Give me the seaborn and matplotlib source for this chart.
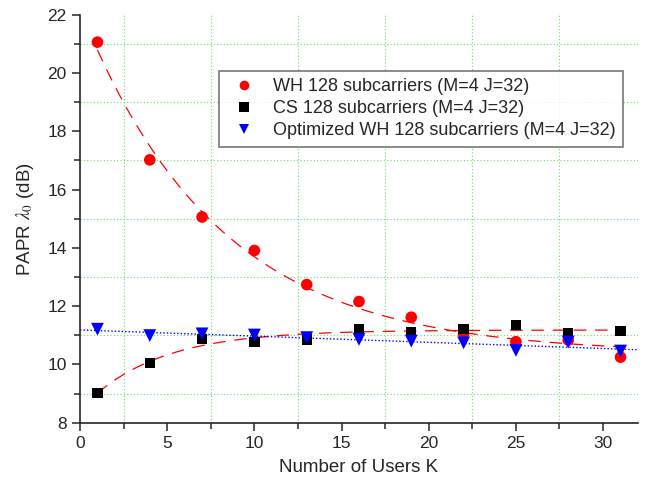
import numpy as np
import pandas as pd
import matplotlib
matplotlib.use('Agg')
import matplotlib.pyplot as plt
from matplotlib.ticker import MultipleLocator
import seaborn as sns

# ── Data ─────────────────────────────────────────────────────────────────────
users     = [1, 4, 7, 10, 13, 16, 19, 22, 25, 28, 31]
wh_papr   = [21.06, 17.02, 15.06, 13.91, 12.74, 12.16, 11.62, 11.05, 10.78, 10.84, 10.25]
cs_papr   = [9.02, 10.04, 10.87, 10.78, 10.86, 11.22, 11.11, 11.21, 11.36, 11.07, 11.16]
opt_papr  = [11.21, 10.99, 11.05, 11.01, 10.92, 10.86, 10.80, 10.74, 10.48, 10.77, 10.46]
labels    = ["WH 128 subcarriers (M=4 J=32)",
             "CS 128 subcarriers (M=4 J=32)",
             "Optimized WH 128 subcarriers (M=4 J=32)"]

sns.set_style('ticks')
plt.rcParams['font.family'] = ['Liberation Sans', 'DejaVu Sans']
plt.rcParams['mathtext.fontset'] = 'stix'

df = pd.DataFrame({
    'K':    users * 3,
    'PAPR': wh_papr + cs_papr + opt_papr,
    'series': [labels[0]] * 11 + [labels[1]] * 11 + [labels[2]] * 11,
})


def exp_fit(x, y):
    # y = a + b*exp(-x/t), best t by grid search, a/b by least squares
    x = np.asarray(x, float); y = np.asarray(y, float)
    best = None
    for t in np.linspace(1, 30, 600):
        A = np.column_stack([np.ones_like(x), np.exp(-x / t)])
        coef, *_ = np.linalg.lstsq(A, y, rcond=None)
        err = np.sum((A @ coef - y) ** 2)
        if best is None or err < best[0]:
            best = (err, coef, t)
    _, (a, b), t = best
    return lambda xx: a + b * np.exp(-xx / t)


fig = plt.figure(figsize=(6.48, 4.91), dpi=100)
ax = fig.add_axes([0.1235, 0.139, 0.861, 0.831])

# fitted curves
xs = np.linspace(1, 31.5, 200)
ax.plot(xs, exp_fit(users, wh_papr)(xs), color='red', lw=0.9, dashes=(10, 7), zorder=2)
xs2 = np.linspace(1, 31, 200)
ax.plot(xs2, exp_fit(users, cs_papr)(xs2), color='red', lw=0.9, dashes=(10, 7), zorder=2)
p = np.polyfit(users, opt_papr, 1)
xl = np.linspace(0, 32, 100)
ax.plot(xl, np.polyval(p, xl), color='blue', lw=1.0, ls=(0, (1, 1.5)), zorder=2)

sns.scatterplot(data=df, x='K', y='PAPR', hue='series', style='series', size='series',
                palette=['red', 'black', 'blue'], markers=['o', 's', 'v'],
                sizes={labels[0]: 70, labels[1]: 55, labels[2]: 85},
                edgecolor='none', ax=ax, zorder=3, legend=False)

ax.set_xlim(0, 32)
ax.set_ylim(8, 22)
ax.xaxis.set_major_locator(MultipleLocator(5))
ax.xaxis.set_minor_locator(MultipleLocator(2.5))
ax.yaxis.set_major_locator(MultipleLocator(2))
ax.yaxis.set_minor_locator(MultipleLocator(1))
ax.grid(which='minor', color='#66e066', ls=(0, (1, 2)), lw=0.8)
ax.grid(which='major', visible=False)
for s in ['top', 'right']:
    ax.spines[s].set_visible(False)
for s in ['left', 'bottom']:
    ax.spines[s].set_linewidth(1.2)
ax.tick_params(which='major', direction='out', length=6, width=1.1, labelsize=12.5)
ax.tick_params(which='minor', direction='out', length=4, width=1.1)

ax.set_xlabel("Number of Users K", fontsize=13.5, labelpad=6)
ax.set_ylabel(r"PAPR $\lambda_0$ (dB)", fontsize=13.5, labelpad=8)

# legend handles with equal small markers, as in the original
handles = [plt.Line2D([], [], ls='none', marker=m, color=c, markersize=7, markeredgewidth=0)
           for m, c in zip(['o', 's', 'v'], ['red', 'black', 'blue'])]
leg = ax.legend(handles, labels, loc='upper right', bbox_to_anchor=(0.973, 0.862),
                fontsize=13, frameon=True, fancybox=False, edgecolor='#555555',
                borderaxespad=0, handletextpad=0.6, borderpad=0.4, labelspacing=0.28)
leg.get_frame().set_linewidth(1.2)

plt.savefig("out.png", dpi=100)
plt.close()
